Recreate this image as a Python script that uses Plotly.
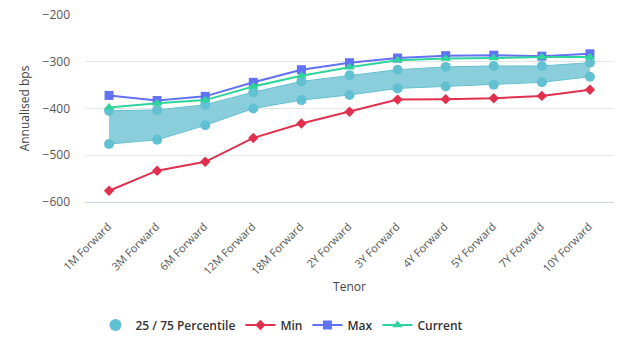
import plotly.graph_objects as go

tenors = ["1M Forward", "3M Forward", "6M Forward", "12M Forward", "18M Forward",
          "2Y Forward", "3Y Forward", "4Y Forward", "5Y Forward", "7Y Forward", "10Y Forward"]
p75 = [-405, -403, -392, -365, -342, -329, -317, -311, -309, -309, -302]
p25 = [-476, -467, -436, -400, -382, -371, -357, -353, -349, -344, -332]
min_vals = [-576, -533, -514, -463, -432, -407, -381, -380, -378, -373, -360]
max_vals = [-372, -383, -374, -344, -317, -302, -292, -287, -286, -288, -283]
current_vals = [-398, -389, -382, -353, -330, -312, -297, -293, -292, -290, -290]

TEAL = "#62c0d3"
FILL = "rgba(110,194,210,0.8)"
RED = "#e0304e"
BLUE = "#6272f5"
GREEN = "#2ed49c"
FONT = "Open Sans"

fig = go.Figure()
fig.add_trace(go.Scatter(x=tenors, y=p25, mode="lines+markers", showlegend=False,
                         line=dict(color=TEAL, width=1), marker=dict(color=TEAL, size=10)))
fig.add_trace(go.Scatter(x=tenors, y=p75, mode="lines+markers", showlegend=False,
                         fill="tonexty", fillcolor=FILL,
                         line=dict(color=TEAL, width=1), marker=dict(color=TEAL, size=10)))
fig.add_trace(go.Scatter(x=[None], y=[None], mode="markers", name="25 / 75 Percentile",
                         marker=dict(color=TEAL, size=12)))
fig.add_trace(go.Scatter(x=tenors, y=min_vals, mode="lines+markers", name="Min",
                         line=dict(color=RED, width=2), marker=dict(color=RED, symbol="diamond", size=8)))
fig.add_trace(go.Scatter(x=tenors, y=max_vals, mode="lines+markers", name="Max",
                         line=dict(color=BLUE, width=2), marker=dict(color=BLUE, symbol="square", size=9)))
fig.add_trace(go.Scatter(x=tenors, y=current_vals, mode="lines+markers", name="Current",
                         line=dict(color=GREEN, width=2), marker=dict(color=GREEN, symbol="triangle-up", size=9)))

fig.update_layout(
    width=624, height=345,
    margin=dict(l=85, r=10, t=15, b=143),
    paper_bgcolor="white", plot_bgcolor="white",
    font=dict(family=FONT, color="#333333", size=12),
    legend=dict(orientation="h", x=282 / 624, xanchor="center", xref="container",
                y=1 - 325 / 345, yanchor="middle", yref="container",
                traceorder="normal",
                font=dict(size=12, color="#333333", weight=600), itemwidth=30, tracegroupgap=0),
    xaxis=dict(title=dict(text="Tenor", font=dict(size=12, color="#444444"), standoff=5),
               tickangle=-45, tickfont=dict(size=11, color="#555555"),
               ticklabelstandoff=13, ticklabelshift=-1,
               automargin=False,
               showgrid=False, showline=True, linecolor="#ccd6eb", ticks="", range=[-0.5, 10.5]),
    yaxis=dict(title=dict(text="Annualised bps", font=dict(size=12, color="#444444"), standoff=10),
               range=[-600, -200], dtick=100, tickfont=dict(size=12, color="#555555"),
               ticklabelstandoff=14, automargin=False,
               gridcolor="#e6e6e6", zeroline=False, ticks="", ticklen=0),
)

fig.write_html("out.html")
